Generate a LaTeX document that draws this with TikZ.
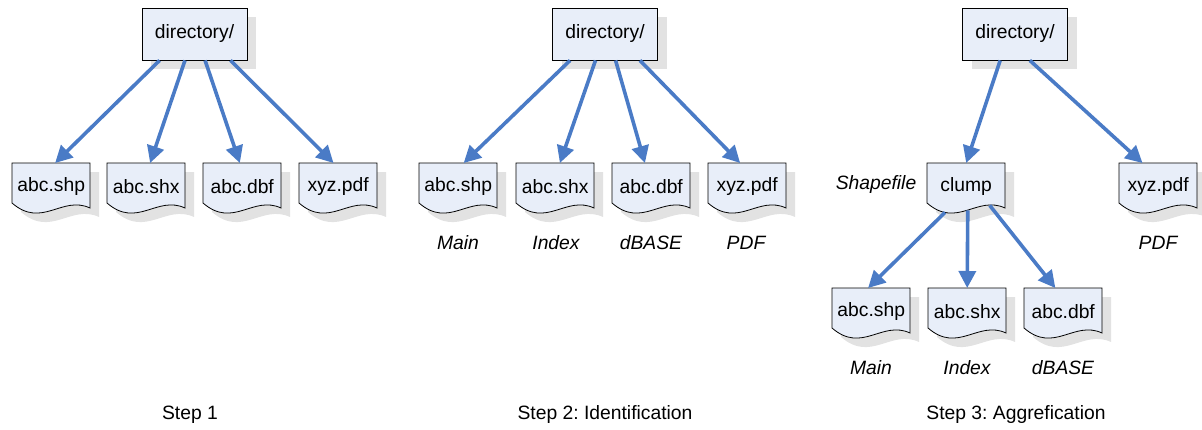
\documentclass[tikz,border=0pt]{standalone}
\usepackage{fontspec}
\setmainfont{Liberation Sans}
\usetikzlibrary{arrows.meta,calc}
\frenchspacing
\definecolor{arrowc}{HTML}{4A7BC6}
\definecolor{fillc}{HTML}{E8EEF9}
\definecolor{shadowc}{HTML}{E2E2E2}
\newcommand\bigf{\fontsize{19.3}{23}\selectfont}
\tikzset{
  shad/.style={preaction={fill=shadowc,transform canvas={shift={(9pt,-9pt)}}}},
  dirbox/.style={draw=black,line width=0.8pt,fill=fillc,shad,minimum width=105pt,minimum height=52pt,inner sep=0pt},
  docnode/.style={minimum width=78pt,minimum height=46pt,inner sep=0pt,anchor=north west},
  docshape/.style={draw=black,line width=0.8pt,fill=fillc,shad},
  arr/.style={draw=arrowc,line width=3.6pt,-{Triangle[length=17pt,width=17pt]}},
  lab/.style={font={\bigf\itshape}},
  steplab/.style={font=\bigf}
}
\newcommand\mydoc[4]{%
  \pgfmathsetmacro\xa{#2}\pgfmathsetmacro\ya{#3}%
  \pgfmathsetmacro\xb{#2+78}\pgfmathsetmacro\yb{#3+40}%
  \pgfmathsetmacro\ca{#2+30}\pgfmathsetmacro\cb{#2+50}%
  \pgfmathsetmacro\yc{#3+66}\pgfmathsetmacro\yd{#3+32}\pgfmathsetmacro\ye{#3+45}%
  \path[docshape] (\xa,\ya) -- (\xb,\ya) -- (\xb,\ye) .. controls (\cb,\yd) and (\ca,\yc) .. (\xa,\yb) -- cycle;
  \node[docnode] (#1) at (\xa,\ya) {#4};
}
\begin{document}
\begin{tikzpicture}[x=1pt,y=-1pt,font=\bigf]
\useasboundingbox (0,0) rectangle (1202,429);
% ---------- Step 1
\node[dirbox] (d1) at (194.5,34) {directory/};
\mydoc{a1}{12}{163}{abc.shp}
\mydoc{b1}{107}{163}{abc.shx}
\mydoc{c1}{203}{163}{abc.dbf}
\mydoc{e1}{299}{163}{xyz.pdf}
\draw[arr] ($(d1.south west)!0.17!(d1.south east)$) -- ($(a1.north west)!0.55!(a1.north east)$);
\draw[arr] ($(d1.south west)!0.41!(d1.south east)$) -- ($(b1.north west)!0.55!(b1.north east)$);
\draw[arr] ($(d1.south west)!0.60!(d1.south east)$) -- ($(c1.north west)!0.47!(c1.north east)$);
\draw[arr] ($(d1.south west)!0.84!(d1.south east)$) -- ($(e1.north west)!0.44!(e1.north east)$);
\node[steplab] (s1) at (190,415) {Step 1};
% ---------- Step 2
\node[dirbox] (d2) at (605,34) {directory/};
\mydoc{a2}{419}{163}{abc.shp}
\mydoc{b2}{516}{163}{abc.shx}
\mydoc{c2}{612}{163}{abc.dbf}
\mydoc{e2}{708}{163}{xyz.pdf}
\draw[arr] ($(d2.south west)!0.17!(d2.south east)$) -- ($(a2.north west)!0.57!(a2.north east)$);
\draw[arr] ($(d2.south west)!0.41!(d2.south east)$) -- ($(b2.north west)!0.56!(b2.north east)$);
\draw[arr] ($(d2.south west)!0.60!(d2.south east)$) -- ($(c2.north west)!0.42!(c2.north east)$);
\draw[arr] ($(d2.south west)!0.83!(d2.south east)$) -- ($(e2.north west)!0.41!(e2.north east)$);
\node[lab] (l2a) at (458,243) {Main};
\node[lab] (l2b) at (556,243) {Index};
\node[lab] (l2c) at (651,243) {dBASE};
\node[lab] (l2d) at (746,243) {PDF};
\node[steplab] (s2) at (605,415) {Step 2: Identification};
% ---------- Step 3
\node[dirbox] (d3) at (1015,34) {directory/};
\mydoc{cl}{927}{163}{clump}
\mydoc{e3}{1119}{163}{xyz.pdf}
\mydoc{a3}{832}{288}{abc.shp}
\mydoc{b3}{928}{288}{abc.shx}
\mydoc{c3}{1024}{288}{abc.dbf}
\draw[arr] ($(d3.south west)!0.36!(d3.south east)$) -- ($(cl.north west)!0.5!(cl.north east)$);
\draw[arr] ($(d3.south west)!0.64!(d3.south east)$) -- ($(e3.north west)!0.3!(e3.north east)$);
\coordinate (cla) at ($(cl.south west)!0.23!(cl.south east)+(0,3)$);
\coordinate (clb) at ($(cl.south west)!0.52!(cl.south east)+(0,1)$);
\coordinate (clc) at ($(cl.south west)!0.80!(cl.south east)+(0,-4)$);
\draw[arr] (cla) -- ($(a3.north west)!0.46!(a3.north east)$);
\draw[arr] (clb) -- ($(b3.north west)!0.5!(b3.north east)$);
\draw[arr] (clc) -- ($(c3.north west)!0.4!(c3.north east)$);
\node[lab] (sh) at (876,185) {Shapefile};
\node[lab] (l3d) at (1158,243) {PDF};
\node[lab] (l3a) at (871,368) {Main};
\node[lab] (l3b) at (967,368) {Index};
\node[lab] (l3c) at (1063,368) {dBASE};
\node[steplab] (s3) at (1016,415) {Step 3: Aggrefication};
\end{tikzpicture}
\end{document}
